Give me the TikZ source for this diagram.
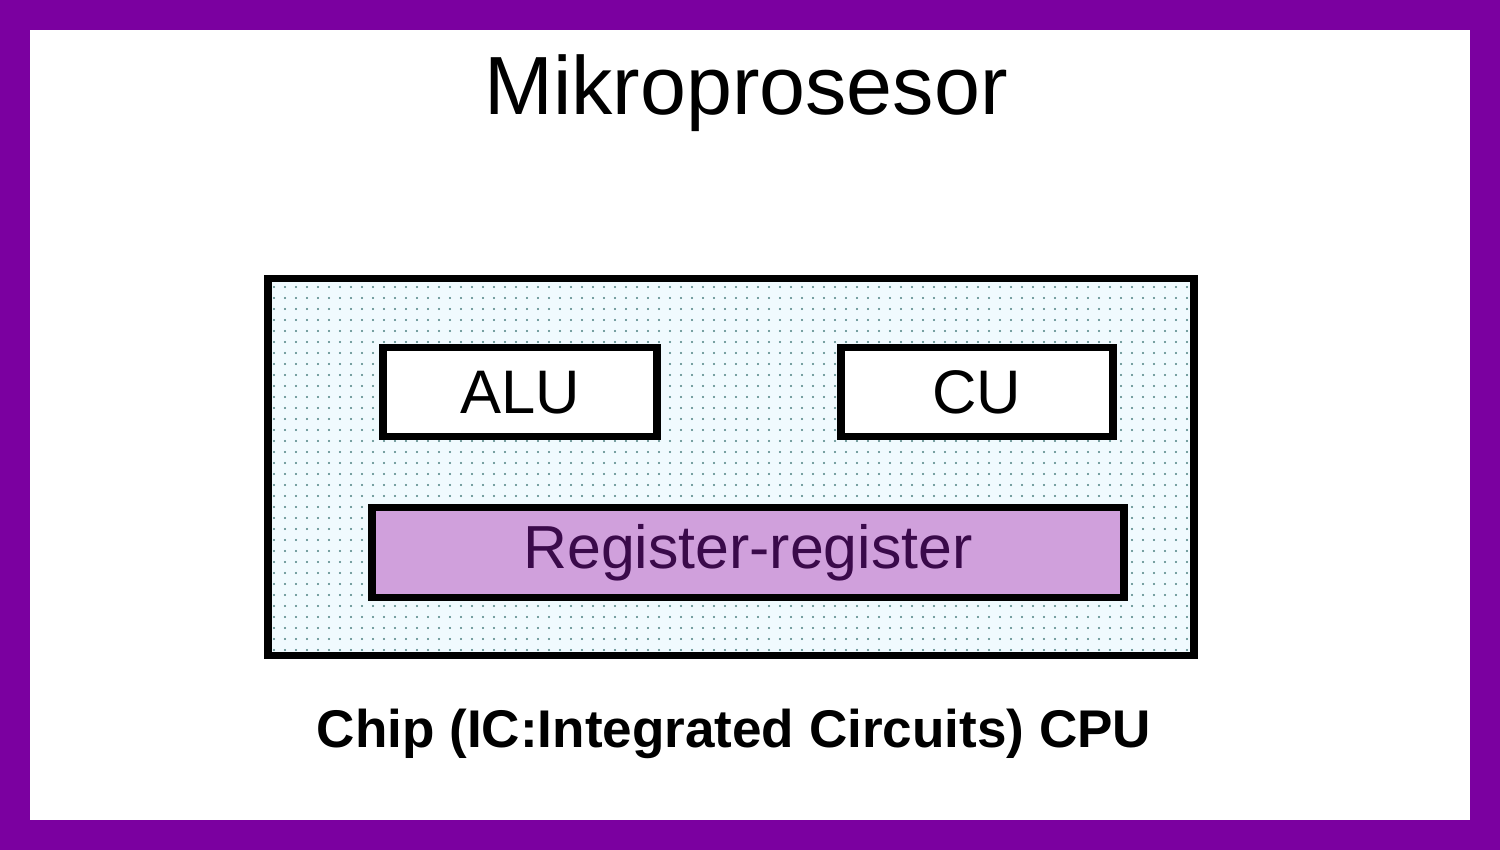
\documentclass[tikz,border=0pt]{standalone}
\usepackage{fontspec}
\setmainfont{Liberation Sans}
\usetikzlibrary{positioning}

\definecolor{framepurple}{RGB}{123,0,160}
\definecolor{regfill}{RGB}{208,160,220}
\definecolor{regtext}{RGB}{58,10,74}

\begin{document}
\begin{tikzpicture}[
        chip/.style={rectangle, inner sep=0pt, minimum width=9.26cm, minimum height=3.77cm, draw=black, line width=2pt, fill=cyan!6},
        unit/.style={rectangle, inner sep=0pt, minimum width=2.74cm, minimum height=0.89cm, text centered, draw=black, line width=2pt, fill=white},
        regs/.style={rectangle, inner sep=0pt, minimum width=7.52cm, minimum height=0.90cm, text centered, draw=black, line width=2pt, fill=regfill, text=regtext},
        dot/.style={fill=teal!40!gray}
        ]

        % frame
        \fill[framepurple] (0,0) rectangle (15,8.5);
        \fill[white] (0.3,0.3) rectangle (14.7,8.2);

        \node (title)  at (7.46,7.57)                       {\fontsize{23.5}{27}\selectfont Mikroprosesor};
        \node (cpu)    [chip] at (7.31,3.825)               {};

        % dotted texture of the chip
        \foreach \i in {0,...,83}
            \foreach \j in {0,...,33}
                \fill[dot] (2.74+0.11*\i, 2.00+0.11*\j) circle (0.012);

        \node (alu)    [unit] at (5.20,4.575)               {\fontsize{17.5}{21}\selectfont ALU};
        \node (cu)     [unit, minimum width=2.72cm] at (9.77,4.575) {\fontsize{17.5}{21}\selectfont CU};
        \node (reg)    [regs] at (7.48,2.97)                {\fontsize{17.3}{21}\selectfont Register-register};
        \node (label)  [below=0.37cm of cpu, xshift=0.03cm] {\fontsize{15.1}{18}\selectfont\bfseries Chip (IC:Integrated Circuits) CPU};

    \end{tikzpicture}
\end{document}
